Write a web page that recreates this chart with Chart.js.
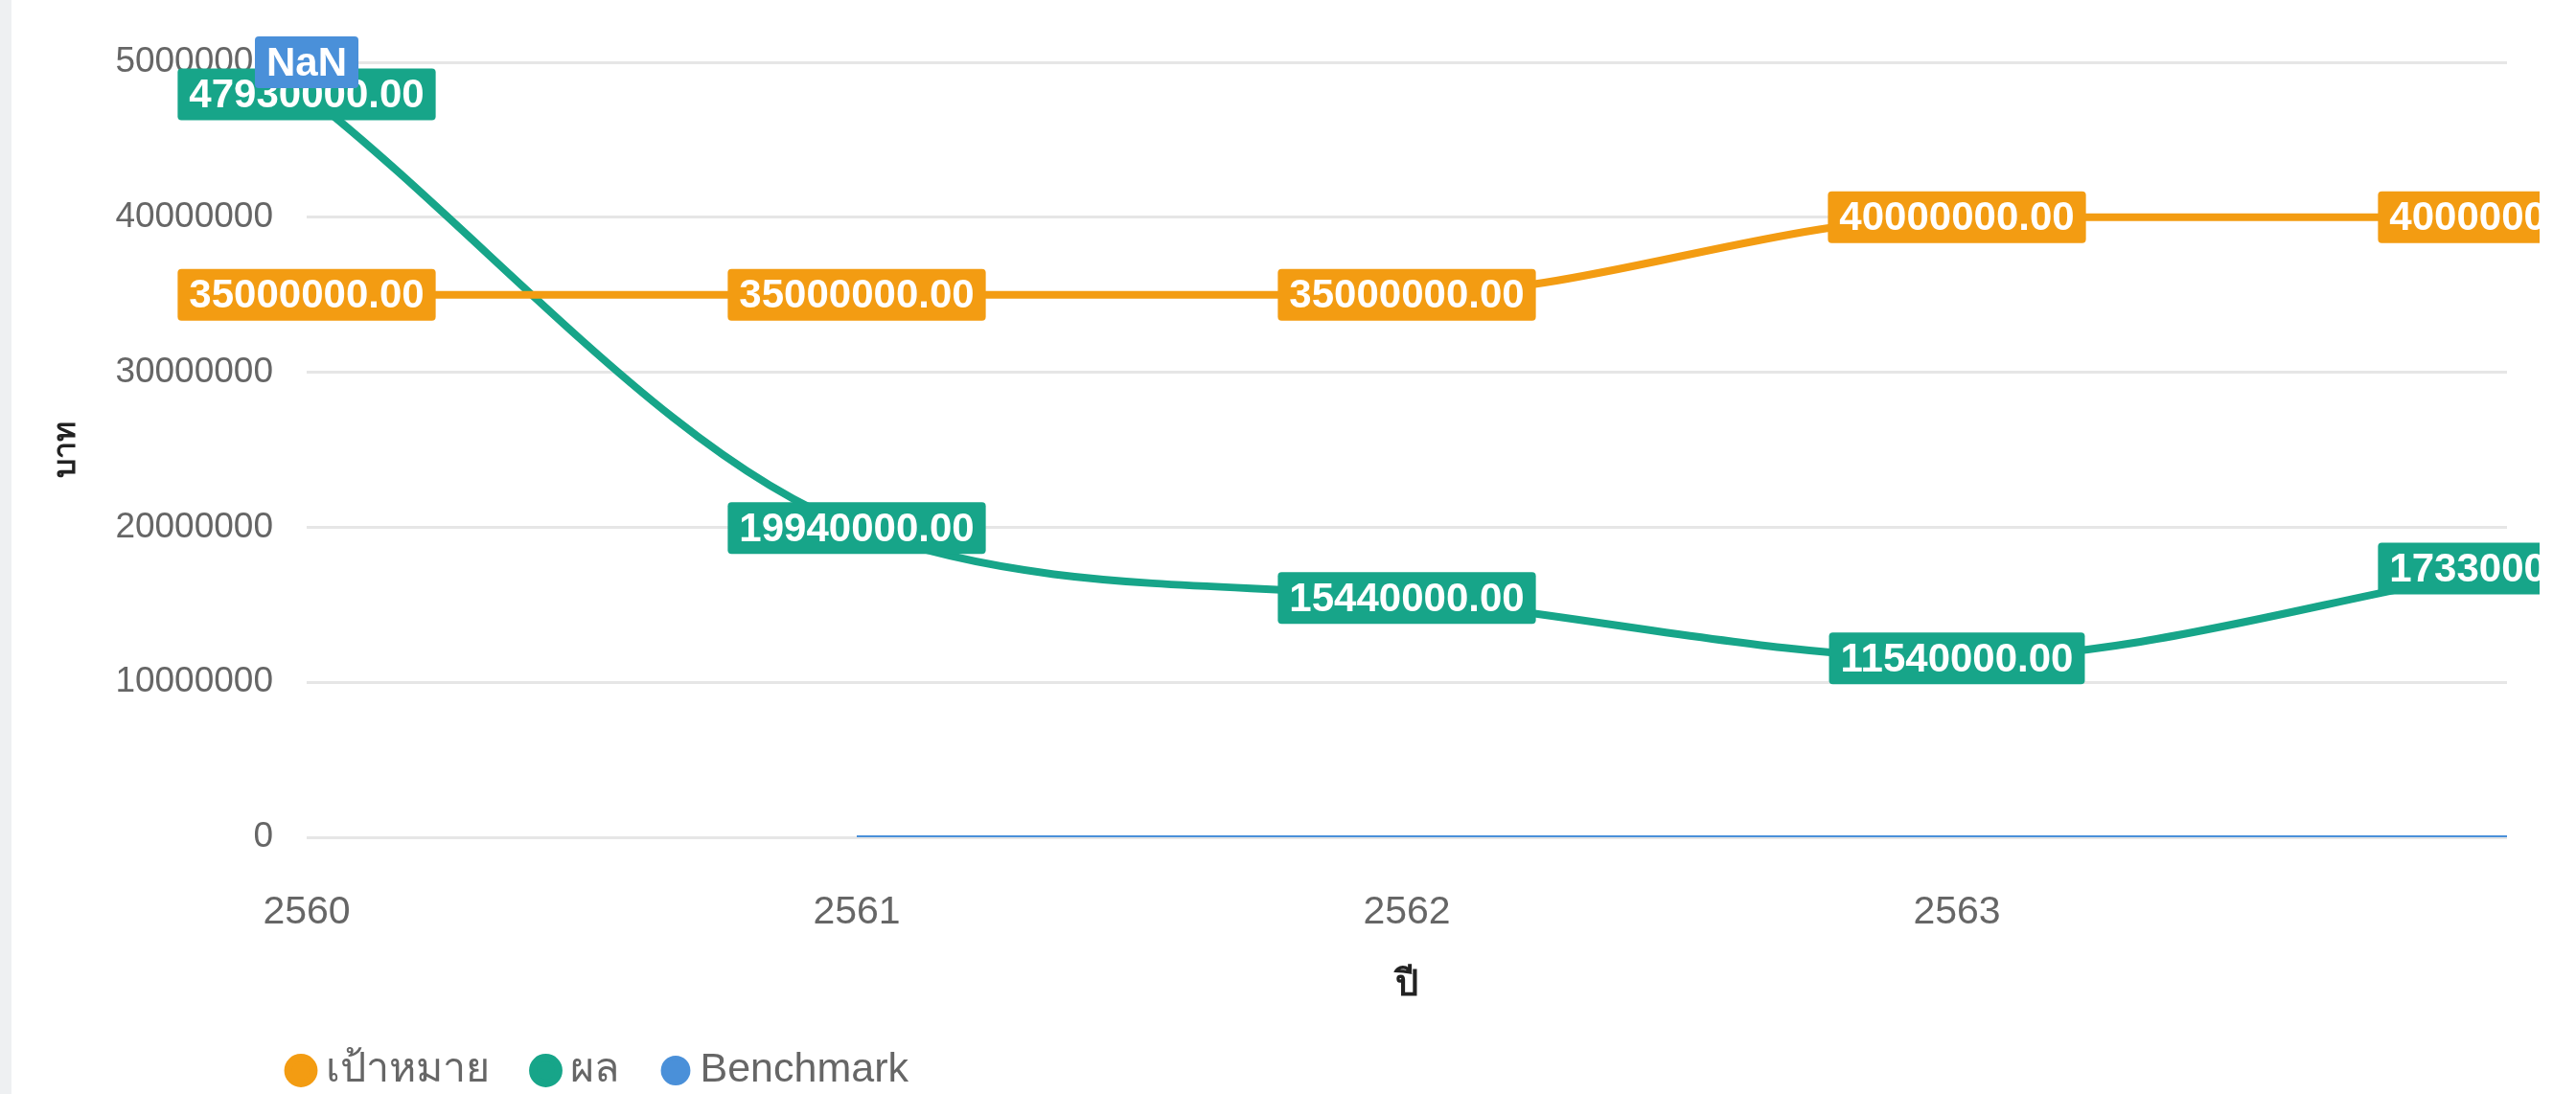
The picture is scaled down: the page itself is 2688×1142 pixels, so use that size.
<!DOCTYPE html>
<html>
<head>
<meta charset="utf-8">
<title>เป้าหมาย / ผล</title>
<script src="https://cdn.jsdelivr.net/npm/chart.js@4.4.1/dist/chart.umd.min.js"></script>
<style>
  html, body { margin: 0; padding: 0; background: #fff; }
  .strip { position: absolute; left: 0; top: 0; width: 12px; height: 1142px; background: #eef0f2; }
  .wrap { position: absolute; left: 0; top: 0; width: 2650px; height: 1142px; }
</style>
</head>
<body>
<div class="strip"></div>
<div class="wrap"><canvas id="myChart"></canvas></div>
<script>
const years = ["2560", "2561", "2562", "2563", "2564"];
const target = [35000000, 35000000, 35000000, 40000000, 40000000];
const result = [47930000, 19940000, 15440000, 11540000, 17330000];
const benchmark = [NaN, 0, 0, 0, 0];
const y_ticks = [0, 10000000, 20000000, 30000000, 40000000, 50000000];

const font_family = "'Liberation Sans', Arial, Helvetica, sans-serif";
const orange = "#f39c12";
const green = "#17a589";
const blue = "#4a90d9";

// value boxes drawn on top of each point (like datalabels)
const valueLabels = {
  id: "valueLabels",
  afterDatasetsDraw(chart) {
    const ctx = chart.ctx;
    const area = chart.chartArea;
    ctx.save();
    ctx.font = "bold 42px " + font_family;
    ctx.textAlign = "center";
    ctx.textBaseline = "middle";
    chart.data.datasets.forEach((ds, i) => {
      const meta = chart.getDatasetMeta(i);
      ds.data.forEach((value, j) => {
        if (value === 0) return;
        const pt = meta.data[j];
        const x = pt.x;
        const y = isNaN(value) ? area.top : pt.y;
        const text = Number(value).toFixed(2);
        const w = ctx.measureText(text).width + 24;
        const h = 54;
        ctx.fillStyle = ds.borderColor;
        ctx.beginPath();
        ctx.roundRect(x - w / 2, y - h / 2, w, h, 4);
        ctx.fill();
        ctx.fillStyle = "#fff";
        ctx.fillText(text, x, y + 2);
      });
    });
    ctx.restore();
  },
};

// legend sits further left than the chart area
const legendShift = {
  id: "legendShift",
  afterLayout(chart) {
    chart.legend.left -= 65;
  },
};

const ctx = document.getElementById("myChart").getContext("2d");

const chart = new Chart(ctx, {
  type: "line",
  data: {
    labels: years,
    datasets: [
      {
        label: "เป้าหมาย",
        data: target,
        borderColor: orange,
        backgroundColor: orange,
        borderWidth: 8,
        pointRadius: 0,
        cubicInterpolationMode: "monotone",
        fill: false,
      },
      {
        label: "ผล",
        data: result,
        borderColor: green,
        backgroundColor: green,
        borderWidth: 8,
        pointRadius: 0,
        cubicInterpolationMode: "monotone",
        fill: false,
      },
      {
        label: "Benchmark",
        data: benchmark,
        borderColor: blue,
        backgroundColor: blue,
        borderWidth: 4,
        pointRadius: 0,
        cubicInterpolationMode: "monotone",
        fill: false,
      },
    ],
  },
  options: {
    responsive: true,
    maintainAspectRatio: false,
    animation: false,
    layout: { padding: { top: 65, right: 34, left: 0, bottom: -7 } },
    plugins: {
      tooltip: { enabled: false },
      legend: {
        position: "bottom",
        align: "start",
        fullSize: false,
        labels: {
          usePointStyle: true,
          pointStyle: "circle",
          boxWidth: 8,
          boxHeight: 19,
          padding: 55,
          color: "#666",
          font: { family: font_family, size: 43 },
        },
      },
    },
    scales: {
      x: {
        grid: {
          display: true,
          drawOnChartArea: false,
          drawTicks: true,
          tickLength: 50,
          color: "rgba(0,0,0,0)",
        },
        border: { display: false },
        ticks: {
          autoSkip: false,
          maxRotation: 0,
          padding: 4,
          color: "#666",
          font: { family: font_family, size: 41 },
          callback: (v, i) => (i === years.length - 1 ? "" : years[i]),
        },
        title: {
          display: true,
          text: "ปี",
          color: "#222",
          font: { family: font_family, size: 38, weight: "bold" },
          padding: { top: 0, bottom: -10 },
        },
        afterFit: (scale) => {
          scale.height = 167;
        },
      },
      y: {
        min: 0,
        max: 50000000,
        afterBuildTicks: (scale) => {
          scale.ticks = y_ticks.map((v) => ({ value: v }));
        },
        grid: { color: "#e6e6e6", lineWidth: 3, drawTicks: false },
        border: { display: false },
        ticks: {
          padding: 35,
          color: "#666",
          font: { family: font_family, size: 37 },
          callback: (v) => String(v),
        },
        title: {
          display: true,
          text: "บาท",
          color: "#222",
          font: { family: font_family, size: 32, weight: "bold" },
          padding: { top: 50, bottom: 0 },
        },
        afterFit: (scale) => {
          scale.width = 320;
        },
      },
    },
  },
  plugins: [valueLabels, legendShift],
});
</script>
</body>
</html>
